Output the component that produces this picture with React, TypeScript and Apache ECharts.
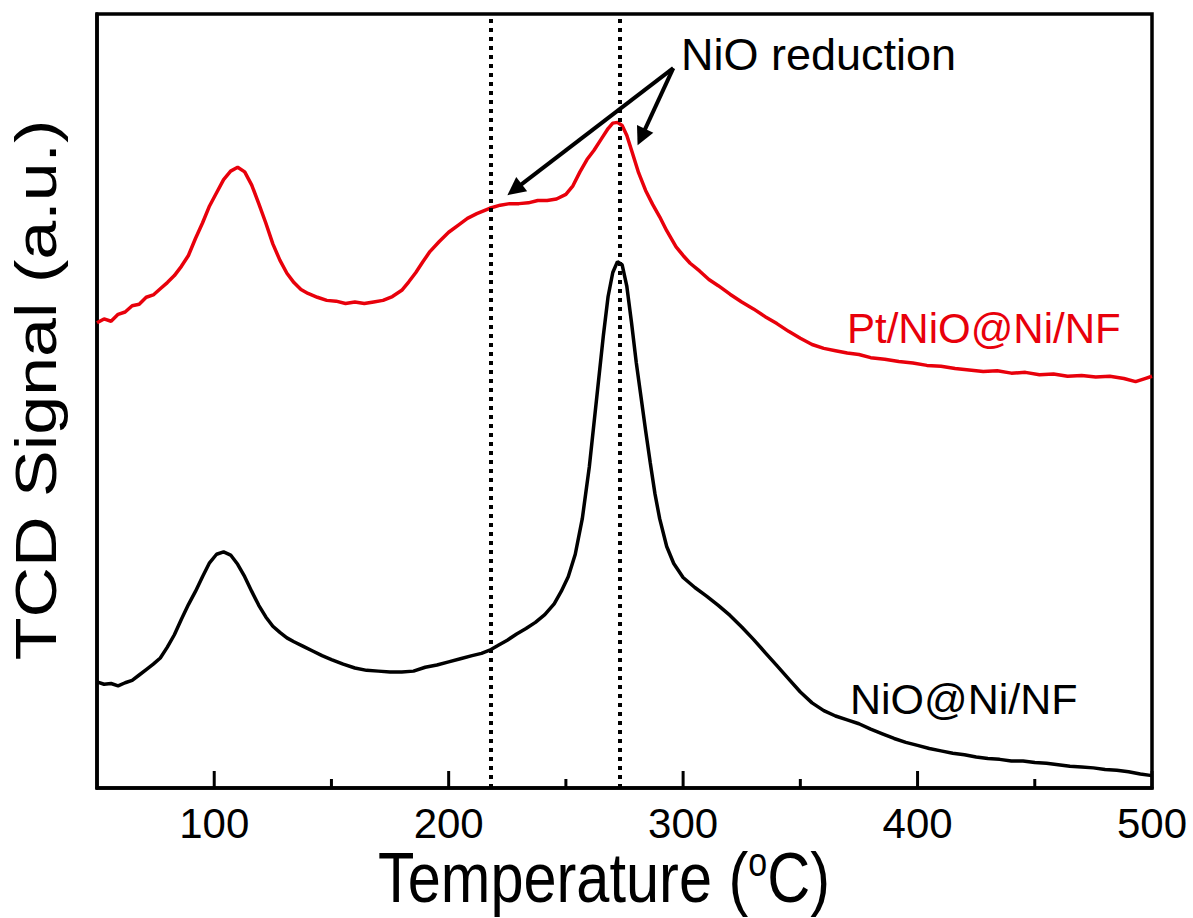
import React, { useEffect, useRef } from "react";
import * as echarts from "echarts";

// Temperature (°C) and TCD signal (a.u.) for Pt/NiO@Ni/NF (red)
const redT = [50,53,56,59,62,65,68,71,74,77,80,83,86,89,92,95,98,101,104,107,110,113,116,119,122,125,128,131,134,137,140,144,148,152,156,160,164,168,172,176,180,183,186,189,192,196,200,204,208,212,217.5,222,226,230,234,238,242,246,250,253,256,259,262,265,268,270,272,274,276,278,281,284,287,290,293,297,300,303,307,311,315,320,325,330,335,340,345,350,355,360,365,370,375,380,386,392,398,404,410,416,422,428,434,440,446,452,458,464,470,476,482,488,493,497,500];
const redV = [60.1,60.6,60.3,61.2,61.5,62.3,62.5,63.4,63.7,64.5,65.3,66.2,67.4,68.8,71.0,73.0,75.2,76.9,78.6,79.7,80.2,79.6,77.9,75.5,73.0,70.3,68.2,66.5,65.3,64.4,63.9,63.4,63.0,62.9,62.6,62.8,62.6,62.8,63.0,63.5,64.3,65.4,66.6,68.0,69.3,70.6,71.8,72.7,73.6,74.2,74.9,75.3,75.5,75.5,75.6,75.9,75.9,76.1,76.7,77.8,79.6,81.2,82.4,83.8,85.2,85.9,86.0,85.6,84.3,82.4,79.5,77.2,75.4,73.8,72.0,69.9,68.8,67.8,66.8,65.7,64.9,63.8,62.8,61.9,60.9,60.0,59.0,58.1,57.3,56.8,56.5,56.2,56.0,55.6,55.4,55.1,54.9,54.6,54.5,54.2,54.0,53.8,53.9,53.6,53.7,53.4,53.5,53.2,53.3,53.1,53.2,52.9,52.5,52.9,53.2];

// NiO@Ni/NF (black)
const blackT = [50,53,56,59,62,65,68,71,74,77,80,83,86,89,92,95,98,101,104,107,110,113,116,119,122,125,128,131,134,138,142,146,150,155,160,165,170,175,180,185,190,195,200,205,210,214,217.5,221,225,229,233,237,241,245,248,251,254,257,260,263,266,268,270,272,274,276,278,280,282,284,286,288,290,293,296,300,305,310,315,320,325,330,335,340,345,350,355,360,365,370,375,380,385,390,395,400,405,410,415,420,425,430,435,440,445,450,455,460,465,470,475,480,485,490,495,500];
const blackV = [13.7,13.4,13.5,13.2,13.6,13.9,14.6,15.3,16.0,16.8,18.2,19.8,21.8,23.7,25.4,27.3,29.1,30.2,30.5,30.1,28.9,27.3,25.4,23.6,22.1,20.9,20.1,19.4,18.9,18.3,17.7,17.1,16.6,16.0,15.5,15.2,15.1,15.0,15.0,15.1,15.6,15.9,16.3,16.7,17.1,17.4,17.8,18.4,19.1,19.9,20.6,21.4,22.4,23.8,25.4,27.3,30.2,34.8,41.5,50.0,58.5,63.5,66.6,68.0,67.6,64.8,60.1,55.0,50.6,46.2,42.0,38.0,34.8,31.2,29.0,27.2,25.9,24.8,23.6,22.3,20.8,19.2,17.5,15.8,14.1,12.4,11.0,10.0,9.3,8.8,8.3,7.6,7.0,6.4,5.9,5.5,5.1,4.8,4.5,4.3,4.0,3.8,3.7,3.5,3.5,3.3,3.2,3.0,2.8,2.7,2.6,2.4,2.3,2.1,1.8,1.6];

const xMin = 50;
const xMax = 500;
const yMin = 0;
const yMax = 100;
const majorTicks = [100, 200, 300, 400, 500];
const minorTicks = [150, 250, 350, 450];
const dottedLinesT = [218, 273];
const arrowTail = [295.8, 93.0];
const arrowHeads = [[228.1, 77.3], [282.2, 84.1]];

const FONT = "'Liberation Sans', Arial, sans-serif";
const RED = "#e8000b";

const texts = [
  { type: "text", x: 681, y: 54, style: { text: "NiO reduction", font: `45px ${FONT}`, fill: "#000", align: "left", verticalAlign: "middle" } },
  { type: "text", x: 847, y: 328, style: { text: "Pt/NiO@Ni/NF", font: `42px ${FONT}`, fill: RED, align: "left", verticalAlign: "middle" } },
  { type: "text", x: 850, y: 699, style: { text: "NiO@Ni/NF", font: `43px ${FONT}`, fill: "#000", align: "left", verticalAlign: "middle" } },
  {
    type: "text", x: 378, y: 878, scaleX: 0.85,
    style: {
      text: "{a|Temperature (}{b|o}{a|C)}", align: "left", verticalAlign: "middle",
      rich: {
        a: { fontFamily: FONT, fontSize: 70, fill: "#000", lineHeight: 72 },
        b: { fontFamily: FONT, fontSize: 40, fill: "#000", verticalAlign: "top", lineHeight: 72 },
      },
    },
  },
  {
    type: "text", x: 36, y: 390, rotation: Math.PI / 2, scaleY: 0.83,
    style: { text: "TCD Signal (a.u.)", font: `70px ${FONT}`, fill: "#000", align: "center", verticalAlign: "middle" },
  },
];

export default function App() {
  const ref = useRef<HTMLDivElement>(null);
  useEffect(() => {
    if (!ref.current) return;
    const chart = echarts.init(ref.current, undefined, { renderer: "svg" });
    const red = redT.map((t, i) => [t, redV[i]]);
    const black = blackT.map((t, i) => [t, blackV[i]]);
    chart.setOption({
      animation: false,
      backgroundColor: "#fff",
      grid: {
        left: 97, right: 41, top: 14, bottom: 130,
        show: true, borderColor: "#000", borderWidth: 3.5,
      },
      xAxis: {
        type: "value", min: xMin, max: xMax, interval: 50,
        axisLine: { show: true, lineStyle: { color: "#000", width: 3.5 } },
        axisTick: { show: false },
        axisLabel: {
          show: true, customValues: majorTicks, margin: 14,
          fontFamily: FONT, fontSize: 42, color: "#000",
        },
        splitLine: { show: false },
      },
      yAxis: {
        type: "value", min: yMin, max: yMax,
        axisLine: { show: true, lineStyle: { color: "#000", width: 3.5 } },
        axisTick: { show: false }, axisLabel: { show: false }, splitLine: { show: false },
      },
      series: [
        {
          type: "line", name: "Pt/NiO@Ni/NF", data: red, showSymbol: false, symbol: "none",
          lineStyle: { color: RED, width: 3.5 }, z: 3,
          markLine: {
            silent: true, symbol: ["none", "none"], label: { show: false },
            lineStyle: { color: "#000", width: 4, type: [4, 5] },
            data: dottedLinesT.map((t) => ({ xAxis: t })),
          },
        },
        {
          type: "line", name: "NiO@Ni/NF", data: black, showSymbol: false, symbol: "none",
          lineStyle: { color: "#000", width: 3.5 }, z: 3,
          markLine: {
            silent: true, symbol: ["none", "triangle"], symbolSize: 18, label: { show: false },
            lineStyle: { color: "#000", width: 4, type: "solid" },
            data: arrowHeads.map((h) => [{ coord: arrowTail }, { coord: h }]),
          },
        },
      ],
      graphic: texts,
    });
    const tickEls: any[] = [];
    const addTicks = (vals: number[], len: number) => {
      vals.forEach((t) => {
        const p = chart.convertToPixel({ gridIndex: 0 }, [t, yMin]) as number[];
        tickEls.push({
          type: "line", z: 100,
          shape: { x1: p[0], y1: p[1], x2: p[0], y2: p[1] - len },
          style: { stroke: "#000", lineWidth: 3 },
        });
      });
    };
    addTicks(majorTicks, 17);
    addTicks(minorTicks, 9);
    chart.setOption({ graphic: [...texts, ...tickEls] });
    return () => chart.dispose();
  }, []);
  return <div ref={ref} style={{ position: "absolute", left: 0, top: 0, width: 1193, height: 918 }} />;
}
